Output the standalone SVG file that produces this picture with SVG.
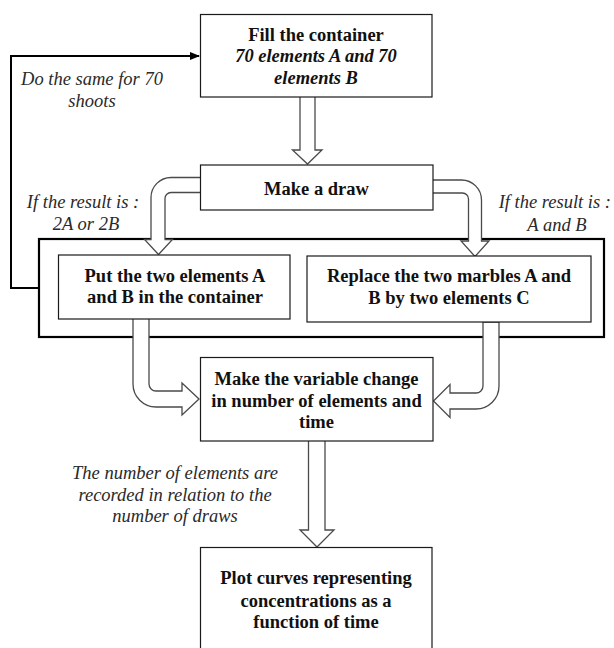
<svg xmlns="http://www.w3.org/2000/svg" width="614" height="648" viewBox="0 0 614 648" font-family="Liberation Serif, Times New Roman, Times, serif">
<defs>
<style>
.box{fill:#fff;stroke:#1a1a1a;stroke-width:1.2}
.outer{fill:none;stroke:#000;stroke-width:2.2}
.blk{fill:#fff;stroke:#4a4a4a;stroke-width:1.3;stroke-linejoin:miter}
.loop{fill:none;stroke:#000;stroke-width:2}
.t{font-size:18.5px;font-weight:bold;fill:#111;text-anchor:middle}
.ti{font-size:18.5px;font-style:italic;fill:#2a2a2a;text-anchor:middle}
</style>
<marker id="ah" markerWidth="10" markerHeight="10" refX="9" refY="5" orient="auto" markerUnits="userSpaceOnUse">
<path d="M0,1 L10,5 L0,9 Z" fill="#000"/>
</marker>
</defs>
<g id="container">
<rect class="outer" x="39" y="239" width="565" height="98"/>
</g>
<g id="connectors">
<path class="loop" d="M40,288 H11 V56 H199" marker-end="url(#ah)"/>
<path class="blk" d="M300,97 V150 H292.5 L307.5,164 L322,150 H315 V97"/>
<path class="blk" d="M200,177.5 H171 A20,20 0 0 0 151,197.5 V239.5 H144.5 L158.5,254.5 L172.5,239.5 H165 V198.5 A6,6 0 0 1 171,192.5 H200"/>
<path class="blk" d="M433,180 H461.5 A20,20 0 0 1 481.5,200 V241 H489 L475,256.5 L461,241 H468.5 V199 A6,6 0 0 0 462.5,193 H433"/>
<path class="blk" d="M133,319 V384 A23,23 0 0 0 156,407 H182 V415 L199,399 L182,383 V391 H156 A7,7 0 0 1 149,384 V319"/>
<path class="blk" d="M499,322 V386 A23,23 0 0 1 476,409 H450 V417.5 L433.5,401 L450,384.5 V393 H476 A7,7 0 0 0 483,386 V322 Z"/>
<path class="blk" d="M308.5,441 V530 H300 L317,547 L334,530 H325 V441"/>
</g>
<g id="labels" font-family="Liberation Serif, serif">
<text class="ti" x="92" y="85">Do the same for 70</text>
<text class="ti" x="92" y="107">shoots</text>
<text class="ti" x="83" y="208">If the result is :</text>
<text class="ti" x="86" y="230">2A or 2B</text>
<text class="ti" x="611" y="208" style="text-anchor:end">If the result is :</text>
<text class="ti" x="557" y="231">A and B</text>
<text class="ti" x="175" y="479">The number of elements are</text>
<text class="ti" x="175" y="500.5">recorded in relation to the</text>
<text class="ti" x="175" y="522">number of draws</text>
</g>
<g id="fill">
<rect class="box" x="200.5" y="14.5" width="231.5" height="82.5"/>
<text class="t" x="316" y="40.5">Fill the container</text>
<text class="t" x="316" y="62.3" font-style="italic">70 elements A and 70</text>
<text class="t" x="316" y="84" font-style="italic">elements B</text>
</g>
<g id="draw">
<rect class="box" x="200.5" y="165" width="232.5" height="45"/>
<text class="t" x="316.5" y="194.5">Make a draw</text>
</g>
<g id="put">
<rect class="box" x="58.5" y="255" width="231.5" height="64"/>
<text class="t" x="175" y="281.5">Put the two elements A</text>
<text class="t" x="175" y="303.3">and B in the container</text>
</g>
<g id="replace">
<rect class="box" x="307" y="256" width="284" height="66"/>
<text class="t" x="449" y="282">Replace the two marbles A and</text>
<text class="t" x="449" y="304">B by two elements C</text>
</g>
<g id="change">
<rect class="box" x="200.5" y="357.5" width="232.5" height="83.5"/>
<text class="t" x="316.5" y="385">Make the variable change</text>
<text class="t" x="316.5" y="406.5">in number of elements and</text>
<text class="t" x="316.5" y="428">time</text>
</g>
<g id="plot">
<rect class="box" x="200.5" y="547.5" width="231.5" height="110"/>
<text class="t" x="316" y="584.3">Plot curves representing</text>
<text class="t" x="316" y="606.5">concentrations as a</text>
<text class="t" x="316" y="628.3">function of time</text>
</g>
</svg>
